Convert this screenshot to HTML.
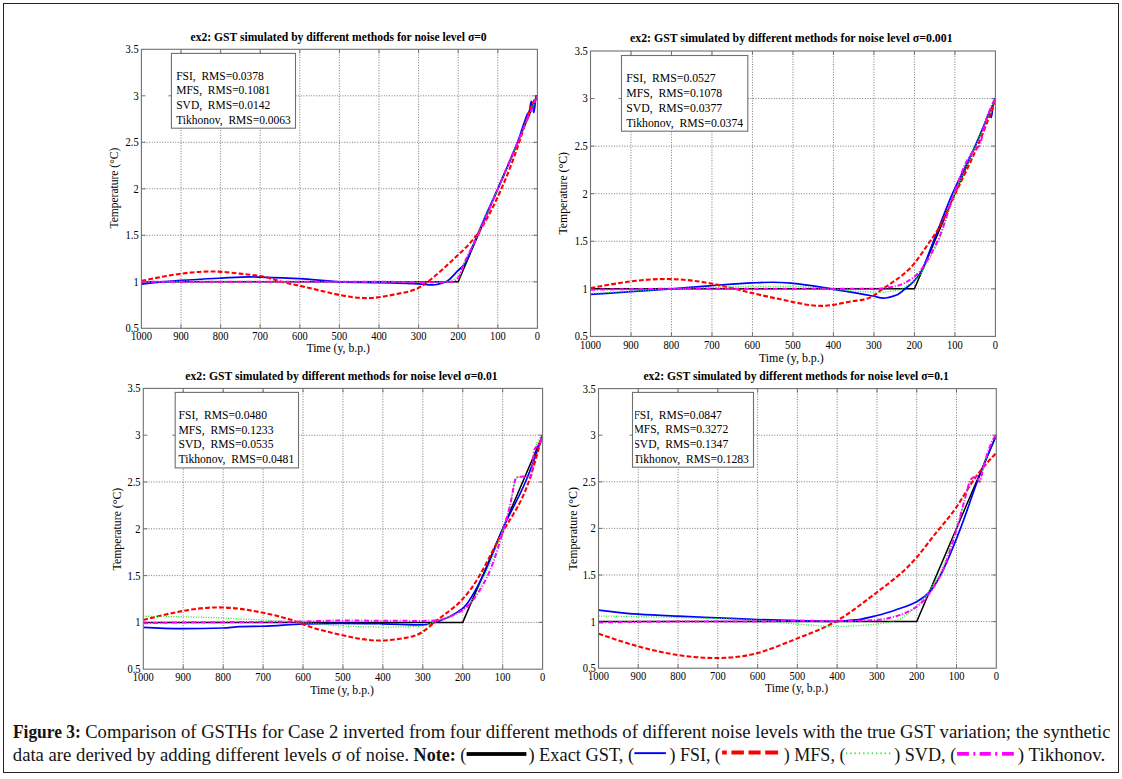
<!DOCTYPE html>
<html><head><meta charset="utf-8"><style>
html,body{margin:0;padding:0;background:#fff;}
body{width:1122px;height:779px;overflow:hidden;position:relative;}
svg{position:absolute;left:0;top:0;}
text{font-family:"Liberation Serif",serif;fill:#000;}
.cap text{fill:#141414;}
</style></head><body>
<svg width="1122" height="779" viewBox="0 0 1122 779">
<rect x="3.5" y="3.5" width="1115" height="769" fill="none" stroke="#222" stroke-width="1"/>
<defs><clipPath id="c0"><rect x="141.40" y="47.30" width="396.00" height="283.00"/></clipPath><clipPath id="l0"><rect x="171.40" y="53.40" width="124.10" height="74.80"/></clipPath><clipPath id="c1"><rect x="590.50" y="49.00" width="404.90" height="289.40"/></clipPath><clipPath id="l1"><rect x="621.50" y="55.50" width="126.30" height="75.70"/></clipPath><clipPath id="c2"><rect x="143.30" y="386.40" width="399.30" height="284.80"/></clipPath><clipPath id="l2"><rect x="175.20" y="392.40" width="123.30" height="75.50"/></clipPath><clipPath id="c3"><rect x="598.50" y="386.60" width="397.80" height="283.60"/></clipPath><clipPath id="l3"><rect x="635.20" y="392.40" width="118.30" height="74.80"/></clipPath></defs>
<path d="M181.00,49.30 V328.30 M220.60,49.30 V328.30 M260.20,49.30 V328.30 M299.80,49.30 V328.30 M339.40,49.30 V328.30 M379.00,49.30 V328.30 M418.60,49.30 V328.30 M458.20,49.30 V328.30 M497.80,49.30 V328.30 M141.40,281.80 H537.40 M141.40,235.30 H537.40 M141.40,188.80 H537.40 M141.40,142.30 H537.40 M295.50,95.80 H537.40" stroke="#7a7a7a" stroke-width="1" stroke-dasharray="1,1.6" fill="none"/>
<path d="M181.00,328.30 v-4 M181.00,49.30 v4 M220.60,328.30 v-4 M220.60,49.30 v4 M260.20,328.30 v-4 M260.20,49.30 v4 M299.80,328.30 v-4 M299.80,49.30 v4 M339.40,328.30 v-4 M339.40,49.30 v4 M379.00,328.30 v-4 M379.00,49.30 v4 M418.60,328.30 v-4 M418.60,49.30 v4 M458.20,328.30 v-4 M458.20,49.30 v4 M497.80,328.30 v-4 M497.80,49.30 v4 M141.40,281.80 h4 M537.40,281.80 h-4 M141.40,235.30 h4 M537.40,235.30 h-4 M141.40,188.80 h4 M537.40,188.80 h-4 M141.40,142.30 h4 M537.40,142.30 h-4 M141.40,95.80 h4 M537.40,95.80 h-4 M171.40,95.80 h-3" stroke="#707070" stroke-width="1" fill="none"/>
<g clip-path="url(#c0)">
<path d="M141.40,281.80 L458.20,281.80 L537.40,95.80" stroke="#000" stroke-width="1.5" fill="none"/>
<path d="M141.40,284.03 C154.60,282.59 167.80,281.33 181.00,280.41 C194.20,279.48 207.40,278.83 220.60,278.17 C230.37,277.69 240.14,276.87 249.90,276.87 C253.34,276.87 256.77,277.05 260.20,277.15 C273.40,277.55 286.60,277.96 299.80,278.64 C313.00,279.31 326.20,281.32 339.40,281.80 C352.60,282.28 365.80,282.39 379.00,282.73 C392.20,283.07 405.40,283.25 418.60,283.85 C423.22,284.06 427.84,284.96 432.46,284.96 C436.95,284.96 441.44,283.50 445.92,281.80 C450.02,280.25 454.11,274.40 458.20,270.45 C460.31,268.42 462.42,266.98 464.54,264.13 C467.70,259.86 470.87,250.02 474.04,242.74 C478.00,233.65 481.96,223.82 485.92,214.84 C489.88,205.86 493.84,197.75 497.80,188.80 C504.40,173.88 511.00,160.00 517.60,142.30 C519.58,136.99 521.56,130.24 523.54,124.63 C524.79,121.08 526.05,116.98 527.30,114.40 C528.03,112.91 528.75,112.60 529.48,110.68 C530.06,109.15 530.64,101.38 531.22,101.38 C531.70,101.38 532.17,104.99 532.65,106.96 C533.07,108.71 533.49,112.54 533.92,112.54 C534.68,112.54 535.45,95.80 536.21,95.80 C536.61,95.80 537.00,95.80 537.40,95.80" stroke="#0000ff" stroke-width="1.7" fill="none"/>
<path d="M141.40,280.87 C154.60,278.20 167.80,275.52 181.00,273.71 C192.88,272.08 204.76,271.14 216.64,271.57 C227.73,271.97 238.82,273.55 249.90,274.73 C253.34,275.10 256.77,275.42 260.20,276.03 C267.46,277.32 274.72,279.88 281.98,281.80 C287.92,283.37 293.86,284.51 299.80,285.80 C313.26,288.73 326.73,292.43 340.19,295.10 C350.75,297.19 361.31,298.65 371.87,297.98 C380.85,297.41 389.82,295.31 398.80,293.61 C405.40,292.36 412.00,291.34 418.60,287.84 C421.64,286.24 424.67,284.11 427.71,281.80 C437.87,274.07 448.04,264.34 458.20,254.83 C464.27,249.15 470.34,243.55 476.42,235.30 C484.73,224.00 493.05,207.75 501.36,188.80 C507.30,175.27 513.24,160.36 519.18,142.30 C524.99,124.64 530.80,103.96 536.61,96.73 C536.87,96.40 537.14,96.10 537.40,95.80" stroke="#ff0000" stroke-width="2.1" stroke-dasharray="4.8,2.2" fill="none"/>
<path d="M141.40,281.80 C167.80,281.49 194.20,281.33 220.60,281.33 C247.00,281.33 273.40,281.80 299.80,281.80 C326.20,281.80 352.60,281.80 379.00,281.80 C392.20,281.80 405.40,281.80 418.60,281.80 C426.52,281.80 434.44,281.80 442.36,281.80 C445.66,281.80 448.96,280.97 452.26,279.94 C454.24,279.32 456.22,277.85 458.20,275.75 C460.18,273.66 462.16,267.34 464.14,263.20 C467.44,256.30 470.74,249.98 474.04,242.74 C478.00,234.05 481.96,223.82 485.92,214.84 C489.88,205.86 493.84,197.75 497.80,188.80 C504.40,173.88 511.00,157.80 517.60,142.30 C524.20,126.80 530.80,111.30 537.40,95.80" stroke="#22ee22" stroke-width="1.3" stroke-dasharray="1,1.5" fill="none"/>
<path d="M141.40,281.80 C167.80,281.80 194.20,281.80 220.60,281.80 C247.00,281.80 273.40,281.80 299.80,281.80 C326.20,281.80 352.60,281.80 379.00,281.80 C397.48,281.80 415.96,282.26 434.44,282.26 C440.38,282.26 446.32,282.15 452.26,281.80 C454.24,281.68 456.22,280.06 458.20,278.08 C460.18,276.10 462.16,267.68 464.14,263.20 C468.76,252.74 473.38,245.27 478.00,235.30 C484.60,221.06 491.20,204.30 497.80,188.80 C504.40,173.30 511.00,157.80 517.60,142.30 C521.56,133.00 525.52,123.70 529.48,114.40 C532.12,108.20 534.76,102.00 537.40,95.80" stroke="#ff00ff" stroke-width="2.0" stroke-dasharray="5,1.8,1,1.8" fill="none"/>
</g>
<rect x="141.40" y="49.30" width="396.00" height="279.00" stroke="#707070" stroke-width="1.1" fill="none"/>
<rect x="171.40" y="53.40" width="124.10" height="74.80" stroke="#707070" stroke-width="1.1" fill="#fff"/>
<g clip-path="url(#l0)">
<text transform="translate(176.20,79.50) scale(1,1.100)" font-size="11.00" textLength="87.65" lengthAdjust="spacingAndGlyphs"  xml:space="preserve">FSI,  RMS=0.0378</text>
<text transform="translate(176.20,94.18) scale(1,1.100)" font-size="11.00" textLength="94.05" lengthAdjust="spacingAndGlyphs"  xml:space="preserve">MFS,  RMS=0.1081</text>
<text transform="translate(176.20,108.86) scale(1,1.100)" font-size="11.00" textLength="94.04" lengthAdjust="spacingAndGlyphs"  xml:space="preserve">SVD,  RMS=0.0142</text>
<text transform="translate(176.20,123.54) scale(1,1.100)" font-size="11.00" textLength="114.60" lengthAdjust="spacingAndGlyphs"  xml:space="preserve">Tikhonov,  RMS=0.0063</text>
</g>
<text transform="translate(141.40,339.80) scale(1,1.100)" font-size="10.50" text-anchor="middle"  xml:space="preserve">1000</text>
<text transform="translate(181.00,339.80) scale(1,1.100)" font-size="10.50" text-anchor="middle"  xml:space="preserve">900</text>
<text transform="translate(220.60,339.80) scale(1,1.100)" font-size="10.50" text-anchor="middle"  xml:space="preserve">800</text>
<text transform="translate(260.20,339.80) scale(1,1.100)" font-size="10.50" text-anchor="middle"  xml:space="preserve">700</text>
<text transform="translate(299.80,339.80) scale(1,1.100)" font-size="10.50" text-anchor="middle"  xml:space="preserve">600</text>
<text transform="translate(339.40,339.80) scale(1,1.100)" font-size="10.50" text-anchor="middle"  xml:space="preserve">500</text>
<text transform="translate(379.00,339.80) scale(1,1.100)" font-size="10.50" text-anchor="middle"  xml:space="preserve">400</text>
<text transform="translate(418.60,339.80) scale(1,1.100)" font-size="10.50" text-anchor="middle"  xml:space="preserve">300</text>
<text transform="translate(458.20,339.80) scale(1,1.100)" font-size="10.50" text-anchor="middle"  xml:space="preserve">200</text>
<text transform="translate(497.80,339.80) scale(1,1.100)" font-size="10.50" text-anchor="middle"  xml:space="preserve">100</text>
<text transform="translate(537.40,339.80) scale(1,1.100)" font-size="10.50" text-anchor="middle"  xml:space="preserve">0</text>
<text transform="translate(138.70,332.20) scale(1,1.100)" font-size="10.50" text-anchor="end"  xml:space="preserve">0.5</text>
<text transform="translate(138.70,285.70) scale(1,1.100)" font-size="10.50" text-anchor="end"  xml:space="preserve">1</text>
<text transform="translate(138.70,239.20) scale(1,1.100)" font-size="10.50" text-anchor="end"  xml:space="preserve">1.5</text>
<text transform="translate(138.70,192.70) scale(1,1.100)" font-size="10.50" text-anchor="end"  xml:space="preserve">2</text>
<text transform="translate(138.70,146.20) scale(1,1.100)" font-size="10.50" text-anchor="end"  xml:space="preserve">2.5</text>
<text transform="translate(138.70,99.70) scale(1,1.100)" font-size="10.50" text-anchor="end"  xml:space="preserve">3</text>
<text transform="translate(138.70,53.20) scale(1,1.100)" font-size="10.50" text-anchor="end"  xml:space="preserve">3.5</text>
<text transform="translate(306.40,351.90) scale(1,1.100)" font-size="11.00" textLength="63.40" lengthAdjust="spacingAndGlyphs"  xml:space="preserve">Time (y, b.p.)</text>
<text transform="translate(118.40,228.60) rotate(-90) scale(1,1.100)" x="0" y="0" font-size="11" textLength="80.90" lengthAdjust="spacingAndGlyphs">Temperature (°C)</text>
<text transform="translate(190.50,40.70) scale(1,1.100)" font-size="11.00" textLength="296.10" lengthAdjust="spacingAndGlyphs" font-weight="bold"  xml:space="preserve">ex2: GST simulated by different methods for noise level σ=0</text>
<path d="M630.99,51.00 V336.40 M671.48,51.00 V336.40 M711.97,51.00 V336.40 M752.46,51.00 V336.40 M792.95,51.00 V336.40 M833.44,51.00 V336.40 M873.93,51.00 V336.40 M914.42,51.00 V336.40 M954.91,51.00 V336.40 M590.50,288.83 H995.40 M590.50,241.27 H995.40 M590.50,193.70 H995.40 M590.50,146.13 H995.40 M747.80,98.57 H995.40" stroke="#7a7a7a" stroke-width="1" stroke-dasharray="1,1.6" fill="none"/>
<path d="M630.99,336.40 v-4 M630.99,51.00 v4 M671.48,336.40 v-4 M671.48,51.00 v4 M711.97,336.40 v-4 M711.97,51.00 v4 M752.46,336.40 v-4 M752.46,51.00 v4 M792.95,336.40 v-4 M792.95,51.00 v4 M833.44,336.40 v-4 M833.44,51.00 v4 M873.93,336.40 v-4 M873.93,51.00 v4 M914.42,336.40 v-4 M914.42,51.00 v4 M954.91,336.40 v-4 M954.91,51.00 v4 M590.50,288.83 h4 M995.40,288.83 h-4 M590.50,241.27 h4 M995.40,241.27 h-4 M590.50,193.70 h4 M995.40,193.70 h-4 M590.50,146.13 h4 M995.40,146.13 h-4 M590.50,98.57 h4 M995.40,98.57 h-4 M621.50,98.57 h-3" stroke="#707070" stroke-width="1" fill="none"/>
<g clip-path="url(#c1)">
<path d="M590.50,288.83 L914.42,288.83 L995.40,98.57" stroke="#000" stroke-width="1.5" fill="none"/>
<path d="M590.50,294.35 C604.00,293.49 617.49,292.61 630.99,291.69 C644.49,290.77 657.98,289.84 671.48,288.83 C684.98,287.82 698.47,286.59 711.97,285.60 C725.47,284.61 738.96,283.35 752.46,282.84 C759.21,282.58 765.96,282.27 772.71,282.27 C779.45,282.27 786.20,282.82 792.95,283.32 C806.45,284.30 819.94,287.16 833.44,289.31 C846.94,291.45 860.43,293.69 873.93,296.25 C877.03,296.84 880.14,298.16 883.24,298.16 C887.70,298.16 892.15,296.66 896.60,295.02 C899.44,293.97 902.27,291.10 905.11,288.83 C908.21,286.35 911.32,283.90 914.42,280.56 C916.58,278.23 918.74,275.59 920.90,271.99 C925.08,265.03 929.27,251.61 933.45,241.27 C939.79,225.59 946.14,208.21 952.48,193.70 C960.04,176.42 967.60,163.01 975.15,146.13 C978.53,138.60 981.90,130.28 985.28,122.35 C986.63,119.18 987.98,112.84 989.33,112.84 C990.00,112.84 990.68,117.59 991.35,117.59 C992.03,117.59 992.70,105.70 993.38,103.32 C994.05,100.94 994.73,98.57 995.40,98.57" stroke="#0000ff" stroke-width="1.7" fill="none"/>
<path d="M590.50,288.07 C604.00,285.60 617.49,283.13 630.99,281.41 C643.14,279.87 655.28,278.93 667.43,279.03 C682.28,279.16 697.12,280.83 711.97,283.70 C725.47,286.30 738.96,289.90 752.46,293.11 C765.96,296.33 779.45,299.15 792.95,301.96 C803.75,304.21 814.54,306.45 825.34,305.77 C834.79,305.17 844.24,302.34 853.68,301.01 C860.43,300.06 867.18,299.87 873.93,295.49 C875.95,294.18 877.98,292.49 880.00,290.93 C891.48,282.08 902.95,277.39 914.42,263.34 C919.62,256.97 924.81,248.69 930.01,241.27 C932.51,237.70 935.00,234.34 937.50,230.23 C943.44,220.47 949.38,206.51 955.31,193.70 C962.74,177.69 970.16,163.48 977.58,146.13 C983.52,132.25 989.46,116.36 995.40,100.47" stroke="#ff0000" stroke-width="2.1" stroke-dasharray="4.8,2.2" fill="none"/>
<path d="M590.50,293.59 C604.00,292.80 617.49,292.00 630.99,291.21 C644.49,290.42 657.98,289.43 671.48,288.83 C684.98,288.24 698.47,287.79 711.97,287.41 C725.47,287.03 738.96,286.46 752.46,286.46 C765.96,286.46 779.45,286.46 792.95,286.46 C806.45,286.46 819.94,288.42 833.44,289.31 C848.96,290.33 864.48,292.16 880.00,292.16 C885.54,292.16 891.07,291.31 896.60,290.26 C902.54,289.14 908.48,285.11 914.42,280.27 C922.38,273.78 930.35,258.11 938.31,241.27 C943.84,229.56 949.38,208.03 954.91,193.70 C961.66,176.22 968.41,161.99 975.15,146.13 C981.90,130.28 988.65,114.42 995.40,98.57" stroke="#22ee22" stroke-width="1.3" stroke-dasharray="1,1.5" fill="none"/>
<path d="M590.50,289.78 C617.49,289.31 644.49,288.83 671.48,288.83 C698.47,288.83 725.47,288.83 752.46,288.83 C779.45,288.83 806.45,288.83 833.44,288.83 C846.94,288.83 860.43,288.83 873.93,288.83 C881.49,288.83 889.05,287.55 896.60,285.98 C902.54,284.74 908.48,281.19 914.42,276.66 C922.11,270.78 929.81,256.89 937.50,241.27 C943.03,230.03 948.57,208.66 954.10,193.70 C958.42,182.02 962.74,168.09 967.06,160.40 C969.76,155.60 972.46,151.43 975.15,148.99 C976.50,147.76 977.85,147.67 979.20,146.13 C981.23,143.82 983.25,128.42 985.28,122.35 C988.65,112.23 992.03,103.19 995.40,98.57" stroke="#ff00ff" stroke-width="2.0" stroke-dasharray="5,1.8,1,1.8" fill="none"/>
</g>
<rect x="590.50" y="51.00" width="404.90" height="285.40" stroke="#707070" stroke-width="1.1" fill="none"/>
<rect x="621.50" y="55.50" width="126.30" height="75.70" stroke="#707070" stroke-width="1.1" fill="#fff"/>
<g clip-path="url(#l1)">
<text transform="translate(626.20,81.80) scale(1,1.100)" font-size="11.00" textLength="89.49" lengthAdjust="spacingAndGlyphs"  xml:space="preserve">FSI,  RMS=0.0527</text>
<text transform="translate(626.20,96.72) scale(1,1.100)" font-size="11.00" textLength="96.02" lengthAdjust="spacingAndGlyphs"  xml:space="preserve">MFS,  RMS=0.1078</text>
<text transform="translate(626.20,111.64) scale(1,1.100)" font-size="11.00" textLength="96.01" lengthAdjust="spacingAndGlyphs"  xml:space="preserve">SVD,  RMS=0.0377</text>
<text transform="translate(626.20,126.56) scale(1,1.100)" font-size="11.00" textLength="117.00" lengthAdjust="spacingAndGlyphs"  xml:space="preserve">Tikhonov,  RMS=0.0374</text>
</g>
<text transform="translate(590.50,348.60) scale(1,1.100)" font-size="10.50" text-anchor="middle"  xml:space="preserve">1000</text>
<text transform="translate(630.99,348.60) scale(1,1.100)" font-size="10.50" text-anchor="middle"  xml:space="preserve">900</text>
<text transform="translate(671.48,348.60) scale(1,1.100)" font-size="10.50" text-anchor="middle"  xml:space="preserve">800</text>
<text transform="translate(711.97,348.60) scale(1,1.100)" font-size="10.50" text-anchor="middle"  xml:space="preserve">700</text>
<text transform="translate(752.46,348.60) scale(1,1.100)" font-size="10.50" text-anchor="middle"  xml:space="preserve">600</text>
<text transform="translate(792.95,348.60) scale(1,1.100)" font-size="10.50" text-anchor="middle"  xml:space="preserve">500</text>
<text transform="translate(833.44,348.60) scale(1,1.100)" font-size="10.50" text-anchor="middle"  xml:space="preserve">400</text>
<text transform="translate(873.93,348.60) scale(1,1.100)" font-size="10.50" text-anchor="middle"  xml:space="preserve">300</text>
<text transform="translate(914.42,348.60) scale(1,1.100)" font-size="10.50" text-anchor="middle"  xml:space="preserve">200</text>
<text transform="translate(954.91,348.60) scale(1,1.100)" font-size="10.50" text-anchor="middle"  xml:space="preserve">100</text>
<text transform="translate(995.40,348.60) scale(1,1.100)" font-size="10.50" text-anchor="middle"  xml:space="preserve">0</text>
<text transform="translate(587.80,340.30) scale(1,1.100)" font-size="10.50" text-anchor="end"  xml:space="preserve">0.5</text>
<text transform="translate(587.80,292.73) scale(1,1.100)" font-size="10.50" text-anchor="end"  xml:space="preserve">1</text>
<text transform="translate(587.80,245.17) scale(1,1.100)" font-size="10.50" text-anchor="end"  xml:space="preserve">1.5</text>
<text transform="translate(587.80,197.60) scale(1,1.100)" font-size="10.50" text-anchor="end"  xml:space="preserve">2</text>
<text transform="translate(587.80,150.03) scale(1,1.100)" font-size="10.50" text-anchor="end"  xml:space="preserve">2.5</text>
<text transform="translate(587.80,102.47) scale(1,1.100)" font-size="10.50" text-anchor="end"  xml:space="preserve">3</text>
<text transform="translate(587.80,54.90) scale(1,1.100)" font-size="10.50" text-anchor="end"  xml:space="preserve">3.5</text>
<text transform="translate(758.90,361.50) scale(1,1.100)" font-size="11.00" textLength="64.90" lengthAdjust="spacingAndGlyphs"  xml:space="preserve">Time (y, b.p.)</text>
<text transform="translate(566.90,234.60) rotate(-90) scale(1,1.100)" x="0" y="0" font-size="11" textLength="82.60" lengthAdjust="spacingAndGlyphs">Temperature (°C)</text>
<text transform="translate(630.00,41.50) scale(1,1.100)" font-size="11.00" textLength="322.60" lengthAdjust="spacingAndGlyphs" font-weight="bold"  xml:space="preserve">ex2: GST simulated by different methods for noise level σ=0.001</text>
<path d="M183.23,388.40 V669.20 M223.16,388.40 V669.20 M263.09,388.40 V669.20 M303.02,388.40 V669.20 M342.95,388.40 V669.20 M382.88,388.40 V669.20 M422.81,388.40 V669.20 M462.74,388.40 V669.20 M502.67,388.40 V669.20 M143.30,622.40 H542.60 M143.30,575.60 H542.60 M143.30,528.80 H542.60 M143.30,482.00 H542.60 M298.50,435.20 H542.60" stroke="#7a7a7a" stroke-width="1" stroke-dasharray="1,1.6" fill="none"/>
<path d="M183.23,669.20 v-4 M183.23,388.40 v4 M223.16,669.20 v-4 M223.16,388.40 v4 M263.09,669.20 v-4 M263.09,388.40 v4 M303.02,669.20 v-4 M303.02,388.40 v4 M342.95,669.20 v-4 M342.95,388.40 v4 M382.88,669.20 v-4 M382.88,388.40 v4 M422.81,669.20 v-4 M422.81,388.40 v4 M462.74,669.20 v-4 M462.74,388.40 v4 M502.67,669.20 v-4 M502.67,388.40 v4 M143.30,622.40 h4 M542.60,622.40 h-4 M143.30,575.60 h4 M542.60,575.60 h-4 M143.30,528.80 h4 M542.60,528.80 h-4 M143.30,482.00 h4 M542.60,482.00 h-4 M143.30,435.20 h4 M542.60,435.20 h-4 M175.20,435.20 h-3" stroke="#707070" stroke-width="1" fill="none"/>
<g clip-path="url(#c2)">
<path d="M143.30,622.40 L462.74,622.40 L542.60,435.20" stroke="#000" stroke-width="1.5" fill="none"/>
<path d="M143.30,627.45 C156.61,628.17 169.92,628.67 183.23,628.67 C196.54,628.67 209.85,628.42 223.16,628.02 C228.75,627.85 234.34,626.77 239.93,626.61 C247.65,626.39 255.37,626.42 263.09,626.24 C276.40,625.92 289.71,624.35 303.02,623.99 C315.40,623.66 327.78,623.34 340.15,623.34 C354.40,623.34 368.64,623.58 382.88,623.80 C396.19,624.01 409.50,624.83 422.81,624.83 C426.67,624.83 430.53,623.48 434.39,622.40 C443.84,619.76 453.29,615.73 462.74,608.36 C469.53,603.07 476.32,588.67 483.10,575.60 C489.63,563.04 496.15,543.25 502.67,528.80 C510.26,511.99 517.84,499.90 525.43,482.00 C531.15,468.50 536.88,452.45 542.60,435.20" stroke="#0000ff" stroke-width="1.7" fill="none"/>
<path d="M143.30,619.97 C156.61,616.62 169.92,613.27 183.23,610.89 C195.21,608.74 207.19,607.37 219.17,607.42 C226.09,607.46 233.01,607.97 239.93,608.83 C247.65,609.79 255.37,611.19 263.09,612.76 C274.80,615.14 286.52,617.90 298.23,622.40 C299.83,623.01 301.42,623.66 303.02,624.27 C315.40,629.02 327.78,631.83 340.15,634.66 C352.53,637.49 364.91,640.34 377.29,640.56 C385.81,640.71 394.33,639.62 402.85,638.31 C409.50,637.29 416.16,636.13 422.81,631.76 C426.67,629.22 430.53,625.60 434.39,622.40 C443.84,614.56 453.29,609.23 462.74,599.00 C468.33,592.95 473.92,585.18 479.51,575.60 C487.83,561.35 496.15,543.09 504.47,528.80 C512.52,514.96 520.57,504.84 528.62,482.00 C533.02,469.54 537.41,453.31 541.80,437.07" stroke="#ff0000" stroke-width="2.1" stroke-dasharray="4.8,2.2" fill="none"/>
<path d="M143.30,616.22 C156.61,616.30 169.92,616.53 183.23,616.78 C196.54,617.04 209.85,617.45 223.16,618.00 C228.75,618.23 234.34,618.63 239.93,618.94 C260.96,620.10 281.99,620.91 303.02,622.40 C315.40,623.28 327.78,625.32 340.15,625.86 C354.40,626.49 368.64,627.08 382.88,627.08 C396.19,627.08 409.50,626.86 422.81,626.14 C426.14,625.97 429.47,623.69 432.79,622.40 C442.78,618.53 452.76,616.32 462.74,610.23 C465.14,608.77 467.53,606.52 469.93,603.68 C475.52,597.05 481.11,583.64 486.70,570.92 C494.42,553.35 502.14,533.43 509.86,506.34 C512.12,498.39 514.38,477.32 516.65,477.32 C521.30,477.32 525.96,477.32 530.62,477.32 C531.95,477.32 533.28,453.25 534.61,449.24 C537.28,441.22 539.94,435.20 542.60,435.20" stroke="#22ee22" stroke-width="1.3" stroke-dasharray="1,1.5" fill="none"/>
<path d="M143.30,623.34 C156.61,622.95 169.92,622.53 183.23,622.40 C209.85,622.13 236.47,622.15 263.09,621.93 C276.40,621.82 289.71,621.68 303.02,621.46 C315.40,621.27 327.78,620.53 340.15,620.53 C367.71,620.53 395.26,620.90 422.81,620.90 C426.80,620.90 430.80,620.73 434.79,620.53 C444.11,620.05 453.42,615.57 462.74,610.23 C465.14,608.86 467.53,606.35 469.93,603.68 C475.85,597.08 481.77,587.89 487.70,575.60 C495.08,560.28 502.47,533.76 509.86,506.34 C512.12,497.93 514.38,477.85 516.65,477.32 C519.31,476.70 521.97,476.38 524.63,476.38 C526.63,476.38 528.62,477.32 530.62,477.32 C531.95,477.32 533.28,451.91 534.61,449.24 C535.95,446.57 537.28,446.64 538.61,444.56 C539.94,442.48 541.27,439.10 542.60,435.20" stroke="#ff00ff" stroke-width="2.0" stroke-dasharray="5,1.8,1,1.8" fill="none"/>
</g>
<rect x="143.30" y="388.40" width="399.30" height="280.80" stroke="#707070" stroke-width="1.1" fill="none"/>
<rect x="175.20" y="392.40" width="123.30" height="75.50" stroke="#707070" stroke-width="1.1" fill="#fff"/>
<g clip-path="url(#l2)">
<text transform="translate(178.50,418.90) scale(1,1.100)" font-size="11.00" textLength="88.49" lengthAdjust="spacingAndGlyphs"  xml:space="preserve">FSI,  RMS=0.0480</text>
<text transform="translate(178.50,433.57) scale(1,1.100)" font-size="11.00" textLength="94.95" lengthAdjust="spacingAndGlyphs"  xml:space="preserve">MFS,  RMS=0.1233</text>
<text transform="translate(178.50,448.24) scale(1,1.100)" font-size="11.00" textLength="94.94" lengthAdjust="spacingAndGlyphs"  xml:space="preserve">SVD,  RMS=0.0535</text>
<text transform="translate(178.50,462.91) scale(1,1.100)" font-size="11.00" textLength="115.70" lengthAdjust="spacingAndGlyphs"  xml:space="preserve">Tikhonov,  RMS=0.0481</text>
</g>
<text transform="translate(143.30,681.30) scale(1,1.100)" font-size="10.50" text-anchor="middle"  xml:space="preserve">1000</text>
<text transform="translate(183.23,681.30) scale(1,1.100)" font-size="10.50" text-anchor="middle"  xml:space="preserve">900</text>
<text transform="translate(223.16,681.30) scale(1,1.100)" font-size="10.50" text-anchor="middle"  xml:space="preserve">800</text>
<text transform="translate(263.09,681.30) scale(1,1.100)" font-size="10.50" text-anchor="middle"  xml:space="preserve">700</text>
<text transform="translate(303.02,681.30) scale(1,1.100)" font-size="10.50" text-anchor="middle"  xml:space="preserve">600</text>
<text transform="translate(342.95,681.30) scale(1,1.100)" font-size="10.50" text-anchor="middle"  xml:space="preserve">500</text>
<text transform="translate(382.88,681.30) scale(1,1.100)" font-size="10.50" text-anchor="middle"  xml:space="preserve">400</text>
<text transform="translate(422.81,681.30) scale(1,1.100)" font-size="10.50" text-anchor="middle"  xml:space="preserve">300</text>
<text transform="translate(462.74,681.30) scale(1,1.100)" font-size="10.50" text-anchor="middle"  xml:space="preserve">200</text>
<text transform="translate(502.67,681.30) scale(1,1.100)" font-size="10.50" text-anchor="middle"  xml:space="preserve">100</text>
<text transform="translate(542.60,681.30) scale(1,1.100)" font-size="10.50" text-anchor="middle"  xml:space="preserve">0</text>
<text transform="translate(140.60,673.10) scale(1,1.100)" font-size="10.50" text-anchor="end"  xml:space="preserve">0.5</text>
<text transform="translate(140.60,626.30) scale(1,1.100)" font-size="10.50" text-anchor="end"  xml:space="preserve">1</text>
<text transform="translate(140.60,579.50) scale(1,1.100)" font-size="10.50" text-anchor="end"  xml:space="preserve">1.5</text>
<text transform="translate(140.60,532.70) scale(1,1.100)" font-size="10.50" text-anchor="end"  xml:space="preserve">2</text>
<text transform="translate(140.60,485.90) scale(1,1.100)" font-size="10.50" text-anchor="end"  xml:space="preserve">2.5</text>
<text transform="translate(140.60,439.10) scale(1,1.100)" font-size="10.50" text-anchor="end"  xml:space="preserve">3</text>
<text transform="translate(140.60,392.30) scale(1,1.100)" font-size="10.50" text-anchor="end"  xml:space="preserve">3.5</text>
<text transform="translate(310.30,693.80) scale(1,1.100)" font-size="11.00" textLength="63.50" lengthAdjust="spacingAndGlyphs"  xml:space="preserve">Time (y, b.p.)</text>
<text transform="translate(120.50,570.40) rotate(-90) scale(1,1.100)" x="0" y="0" font-size="11" textLength="82.60" lengthAdjust="spacingAndGlyphs">Temperature (°C)</text>
<text transform="translate(185.30,379.50) scale(1,1.100)" font-size="11.00" textLength="312.40" lengthAdjust="spacingAndGlyphs" font-weight="bold"  xml:space="preserve">ex2: GST simulated by different methods for noise level σ=0.01</text>
<path d="M638.28,388.60 V668.20 M678.06,388.60 V668.20 M717.84,388.60 V668.20 M757.62,388.60 V668.20 M797.40,388.60 V668.20 M837.18,388.60 V668.20 M876.96,388.60 V668.20 M916.74,388.60 V668.20 M956.52,388.60 V668.20 M598.50,621.60 H996.30 M598.50,575.00 H996.30 M598.50,528.40 H996.30 M598.50,481.80 H996.30 M753.50,435.20 H996.30" stroke="#7a7a7a" stroke-width="1" stroke-dasharray="1,1.6" fill="none"/>
<path d="M638.28,668.20 v-4 M638.28,388.60 v4 M678.06,668.20 v-4 M678.06,388.60 v4 M717.84,668.20 v-4 M717.84,388.60 v4 M757.62,668.20 v-4 M757.62,388.60 v4 M797.40,668.20 v-4 M797.40,388.60 v4 M837.18,668.20 v-4 M837.18,388.60 v4 M876.96,668.20 v-4 M876.96,388.60 v4 M916.74,668.20 v-4 M916.74,388.60 v4 M956.52,668.20 v-4 M956.52,388.60 v4 M598.50,621.60 h4 M996.30,621.60 h-4 M598.50,575.00 h4 M996.30,575.00 h-4 M598.50,528.40 h4 M996.30,528.40 h-4 M598.50,481.80 h4 M996.30,481.80 h-4 M598.50,435.20 h4 M996.30,435.20 h-4 M632.50,435.20 h-3" stroke="#707070" stroke-width="1" fill="none"/>
<g clip-path="url(#c3)">
<path d="M598.50,621.60 L916.74,621.60 L996.30,435.20" stroke="#000" stroke-width="1.5" fill="none"/>
<path d="M598.50,610.04 C611.76,611.75 625.02,613.23 638.28,614.14 C651.54,615.06 664.80,615.58 678.06,616.19 C691.32,616.81 704.58,617.31 717.84,617.87 C731.10,618.43 744.36,619.10 757.62,619.55 C770.88,620.00 784.14,620.39 797.40,620.67 C810.66,620.94 823.92,621.32 837.18,621.32 C843.81,621.32 850.44,620.50 857.07,619.74 C863.70,618.97 870.33,617.19 876.96,615.54 C883.59,613.89 890.22,611.76 896.85,609.48 C903.48,607.21 910.11,605.19 916.74,601.66 C921.38,599.18 926.02,595.78 930.66,590.84 C933.98,587.32 937.29,581.16 940.61,575.00 C947.24,562.69 953.87,545.33 960.50,528.40 C966.07,514.18 971.64,496.32 977.21,481.80 C983.57,465.21 989.94,449.55 996.30,435.20" stroke="#0000ff" stroke-width="1.7" fill="none"/>
<path d="M598.50,633.81 C611.76,638.25 625.02,642.69 638.28,646.39 C651.54,650.10 664.80,653.07 678.06,655.06 C689.33,656.75 700.60,657.74 711.87,657.95 C727.12,658.24 742.37,657.11 757.62,653.01 C770.88,649.44 784.14,643.62 797.40,638.38 C810.13,633.34 822.86,628.84 835.59,621.60 C849.38,613.75 863.17,602.68 876.96,592.24 C890.22,582.20 903.48,572.74 916.74,557.29 C923.37,549.57 930.00,540.34 936.63,532.13 C943.26,523.92 949.89,516.72 956.52,506.96 C961.82,499.16 967.13,489.73 972.43,481.80 C980.39,469.91 988.34,461.41 996.30,452.91" stroke="#ff0000" stroke-width="2.1" stroke-dasharray="4.8,2.2" fill="none"/>
<path d="M598.50,616.01 C625.02,616.29 651.54,616.85 678.06,617.50 C704.58,618.15 731.10,618.86 757.62,620.30 C770.88,621.01 784.14,623.15 797.40,624.12 C810.66,625.08 823.92,626.45 837.18,626.45 C850.44,626.45 863.70,625.40 876.96,624.12 C883.59,623.48 890.22,622.20 896.85,620.11 C903.48,618.02 910.11,612.05 916.74,605.76 C924.03,598.84 931.33,588.45 938.62,575.00 C944.59,564.00 950.55,546.59 956.52,528.40 C959.17,520.31 961.82,509.27 964.48,500.44 C966.73,492.94 968.98,481.02 971.24,479.00 C972.96,477.46 974.69,476.21 976.41,476.21 C977.47,476.21 978.53,481.80 979.59,481.80 C981.18,481.80 982.77,467.99 984.37,463.16 C988.34,451.08 992.32,440.08 996.30,435.20" stroke="#22ee22" stroke-width="1.3" stroke-dasharray="1,1.5" fill="none"/>
<path d="M598.50,622.53 C625.02,622.07 651.54,621.60 678.06,621.60 C704.58,621.60 731.10,621.60 757.62,621.60 C770.88,621.60 784.14,620.67 797.40,620.67 C810.66,620.67 823.92,621.13 837.18,621.13 C850.44,621.13 863.70,620.73 876.96,620.02 C883.59,619.66 890.22,617.88 896.85,616.01 C903.48,614.14 910.11,611.21 916.74,606.69 C924.70,601.26 932.65,589.76 940.61,575.00 C946.04,564.91 951.48,546.21 956.92,528.40 C959.44,520.15 961.96,509.03 964.48,500.44 C966.73,492.75 968.98,481.02 971.24,479.00 C972.96,477.46 974.69,476.21 976.41,476.21 C977.47,476.21 978.53,481.80 979.59,481.80 C980.12,481.80 980.65,478.96 981.18,477.14 C982.24,473.49 983.31,466.60 984.37,463.16 C988.34,450.24 992.32,438.08 996.30,435.20" stroke="#ff00ff" stroke-width="2.0" stroke-dasharray="5,1.8,1,1.8" fill="none"/>
</g>
<rect x="598.50" y="388.60" width="397.80" height="279.60" stroke="#707070" stroke-width="1.1" fill="none"/>
<rect x="632.50" y="392.40" width="121.00" height="74.80" stroke="#707070" stroke-width="1.1" fill="#fff"/>
<g clip-path="url(#l3)">
<text transform="translate(633.40,418.80) scale(1,1.100)" font-size="11.00" textLength="88.34" lengthAdjust="spacingAndGlyphs"  xml:space="preserve">FSI,  RMS=0.0847</text>
<text transform="translate(633.40,433.43) scale(1,1.100)" font-size="11.00" textLength="94.79" lengthAdjust="spacingAndGlyphs"  xml:space="preserve">MFS,  RMS=0.3272</text>
<text transform="translate(633.40,448.06) scale(1,1.100)" font-size="11.00" textLength="94.78" lengthAdjust="spacingAndGlyphs"  xml:space="preserve">SVD,  RMS=0.1347</text>
<text transform="translate(633.40,462.69) scale(1,1.100)" font-size="11.00" textLength="115.50" lengthAdjust="spacingAndGlyphs"  xml:space="preserve">Tikhonov,  RMS=0.1283</text>
</g>
<text transform="translate(598.50,680.00) scale(1,1.100)" font-size="10.50" text-anchor="middle"  xml:space="preserve">1000</text>
<text transform="translate(638.28,680.00) scale(1,1.100)" font-size="10.50" text-anchor="middle"  xml:space="preserve">900</text>
<text transform="translate(678.06,680.00) scale(1,1.100)" font-size="10.50" text-anchor="middle"  xml:space="preserve">800</text>
<text transform="translate(717.84,680.00) scale(1,1.100)" font-size="10.50" text-anchor="middle"  xml:space="preserve">700</text>
<text transform="translate(757.62,680.00) scale(1,1.100)" font-size="10.50" text-anchor="middle"  xml:space="preserve">600</text>
<text transform="translate(797.40,680.00) scale(1,1.100)" font-size="10.50" text-anchor="middle"  xml:space="preserve">500</text>
<text transform="translate(837.18,680.00) scale(1,1.100)" font-size="10.50" text-anchor="middle"  xml:space="preserve">400</text>
<text transform="translate(876.96,680.00) scale(1,1.100)" font-size="10.50" text-anchor="middle"  xml:space="preserve">300</text>
<text transform="translate(916.74,680.00) scale(1,1.100)" font-size="10.50" text-anchor="middle"  xml:space="preserve">200</text>
<text transform="translate(956.52,680.00) scale(1,1.100)" font-size="10.50" text-anchor="middle"  xml:space="preserve">100</text>
<text transform="translate(996.30,680.00) scale(1,1.100)" font-size="10.50" text-anchor="middle"  xml:space="preserve">0</text>
<text transform="translate(595.80,672.10) scale(1,1.100)" font-size="10.50" text-anchor="end"  xml:space="preserve">0.5</text>
<text transform="translate(595.80,625.50) scale(1,1.100)" font-size="10.50" text-anchor="end"  xml:space="preserve">1</text>
<text transform="translate(595.80,578.90) scale(1,1.100)" font-size="10.50" text-anchor="end"  xml:space="preserve">1.5</text>
<text transform="translate(595.80,532.30) scale(1,1.100)" font-size="10.50" text-anchor="end"  xml:space="preserve">2</text>
<text transform="translate(595.80,485.70) scale(1,1.100)" font-size="10.50" text-anchor="end"  xml:space="preserve">2.5</text>
<text transform="translate(595.80,439.10) scale(1,1.100)" font-size="10.50" text-anchor="end"  xml:space="preserve">3</text>
<text transform="translate(595.80,392.50) scale(1,1.100)" font-size="10.50" text-anchor="end"  xml:space="preserve">3.5</text>
<text transform="translate(765.00,692.40) scale(1,1.100)" font-size="11.00" textLength="63.10" lengthAdjust="spacingAndGlyphs"  xml:space="preserve">Time (y, b.p.)</text>
<text transform="translate(576.60,570.40) rotate(-90) scale(1,1.100)" x="0" y="0" font-size="11" textLength="83.40" lengthAdjust="spacingAndGlyphs">Temperature (°C)</text>
<text transform="translate(643.40,379.50) scale(1,1.100)" font-size="11.00" textLength="305.30" lengthAdjust="spacingAndGlyphs" font-weight="bold"  xml:space="preserve">ex2: GST simulated by different methods for noise level σ=0.1</text>
<g class="cap">
<text x="12.90" y="737.60" font-size="18" font-weight="bold" textLength="72.30" lengthAdjust="spacingAndGlyphs" xml:space="preserve">Figure 3: </text>
<text x="85.20" y="737.60" font-size="18" textLength="257.80" lengthAdjust="spacingAndGlyphs" xml:space="preserve">Comparison of GSTHs for Case 2 </text>
<text x="343.00" y="737.60" font-size="18" textLength="412.30" lengthAdjust="spacingAndGlyphs" xml:space="preserve">inverted from four different methods of different noise </text>
<text x="755.30" y="737.60" font-size="18" textLength="144.70" lengthAdjust="spacingAndGlyphs" xml:space="preserve">levels with the true </text>
<text x="900.00" y="737.60" font-size="18" textLength="210.50" lengthAdjust="spacingAndGlyphs" xml:space="preserve">GST variation; the synthetic</text>
<text x="12.80" y="760.90" font-size="18" textLength="271.40" lengthAdjust="spacingAndGlyphs" xml:space="preserve">data are derived by adding different </text>
<text x="284.20" y="760.90" font-size="18" textLength="129.40" lengthAdjust="spacingAndGlyphs" xml:space="preserve">levels σ of noise. </text>
<text x="413.6" y="760.90" font-size="18" textLength="52.70" lengthAdjust="spacingAndGlyphs" xml:space="preserve"><tspan font-weight="bold">Note:</tspan> (</text>
<text x="528.40" y="760.90" font-size="18" textLength="105.80" lengthAdjust="spacingAndGlyphs" xml:space="preserve">) Exact GST, (</text>
<text x="669.60" y="760.90" font-size="18" textLength="51.20" lengthAdjust="spacingAndGlyphs" xml:space="preserve">) FSI, (</text>
<text x="783.80" y="760.90" font-size="18" textLength="61.60" lengthAdjust="spacingAndGlyphs" xml:space="preserve">) MFS, (</text>
<text x="894.20" y="760.90" font-size="18" textLength="62.00" lengthAdjust="spacingAndGlyphs" xml:space="preserve">) SVD, (</text>
<text x="1017.80" y="760.90" font-size="18" textLength="87.40" lengthAdjust="spacingAndGlyphs" xml:space="preserve">) Tikhonov.</text>
<rect x="466.6" y="752.1" width="59.8" height="3.8" fill="#000"/>
<rect x="634.4" y="752.2" width="31.5" height="1.9" fill="#0000ff"/>
<rect x="722.10" y="750.5" width="4.70" height="4" fill="#ff0000"/>
<rect x="731.40" y="750.5" width="12.50" height="4" fill="#ff0000"/>
<rect x="748.50" y="750.5" width="12.10" height="4" fill="#ff0000"/>
<rect x="765.20" y="750.5" width="12.90" height="4" fill="#ff0000"/>
<rect x="845.90" y="752.4" width="1.4" height="1.8" fill="#33ee33"/>
<rect x="850.20" y="752.4" width="1.4" height="1.8" fill="#33ee33"/>
<rect x="854.50" y="752.4" width="1.4" height="1.8" fill="#33ee33"/>
<rect x="858.80" y="752.4" width="1.4" height="1.8" fill="#33ee33"/>
<rect x="863.10" y="752.4" width="1.4" height="1.8" fill="#33ee33"/>
<rect x="867.40" y="752.4" width="1.4" height="1.8" fill="#33ee33"/>
<rect x="871.70" y="752.4" width="1.4" height="1.8" fill="#33ee33"/>
<rect x="876.00" y="752.4" width="1.4" height="1.8" fill="#33ee33"/>
<rect x="880.30" y="752.4" width="1.4" height="1.8" fill="#33ee33"/>
<rect x="884.60" y="752.4" width="1.4" height="1.8" fill="#33ee33"/>
<rect x="888.90" y="752.4" width="1.4" height="1.8" fill="#33ee33"/>
<rect x="957.10" y="752" width="11.80" height="3.7" fill="#ff00ff"/>
<rect x="973.40" y="752" width="1.90" height="3.7" fill="#ff00ff"/>
<rect x="979.60" y="752" width="11.20" height="3.7" fill="#ff00ff"/>
<rect x="995.20" y="752" width="2.00" height="3.7" fill="#ff00ff"/>
<rect x="1002.00" y="752" width="11.80" height="3.7" fill="#ff00ff"/>
</g>
</svg>
</body></html>
